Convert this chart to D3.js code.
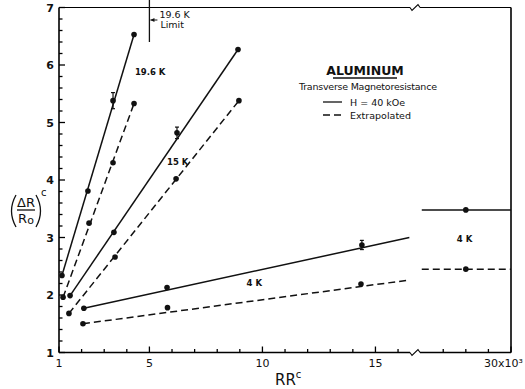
<!DOCTYPE html>
<html>
<head>
<meta charset="utf-8">
<script src="https://cdn.jsdelivr.net/npm/d3@7"></script>
<style>
  body { margin: 0; background: #fff; }
  text { font-family: "DejaVu Sans", sans-serif; fill: #111; }
</style>
</head>
<body>
<svg id="chart" width="525" height="389"></svg>
<script>
// data (x in units of 10^3, y = (dR/R0)^c)
var sol196 = [[1.13, 2.34], [2.28, 3.81], [3.39, 5.38], [4.32, 6.53]];
var das196 = [[1.18, 1.96], [2.33, 3.25], [3.39, 4.3], [4.32, 5.33]];
var sol15 = [[1.49, 1.99], [3.43, 3.09], [6.22, 4.82], [8.92, 6.27]];
var das15 = [[1.44, 1.68], [3.48, 2.66], [6.18, 4.02], [8.96, 5.38]];
var sol4 = [[2.1, 1.77], [5.78, 2.13], [14.4, 2.87], [28, 3.48]];
var das4 = [[2.06, 1.5], [5.8, 1.78], [14.36, 2.19], [28, 2.45]];

// fitted lines [x0, y0, x1, y1]
var fitLines = [
  {d: [1.13, 2.34, 4.32, 6.53], dash: false},
  {d: [1.18, 1.96, 4.32, 5.33], dash: true},
  {d: [1.49, 1.99, 8.92, 6.27], dash: false},
  {d: [1.44, 1.68, 8.96, 5.38], dash: true},
  {d: [2.1, 1.77, 16.5, 3.0], dash: false},
  {d: [2.06, 1.5, 16.5, 2.26], dash: true},
  {d: [26.05, 3.48, 30, 3.48], dash: false},
  {d: [26.05, 2.45, 30, 2.45], dash: true}
];

// error bars [x, y, half]
var errBars = [[3.39, 5.38, 0.14], [6.22, 4.82, 0.1], [14.4, 2.87, 0.08]];

var seriesLabels = [["19.6 K", 4.36, 5.83], ["15 K", 5.78, 4.26], ["4 K", 9.3, 2.16], ["4 K", 27.6, 2.92]];

var yTicks = [1, 2, 3, 4, 5, 6, 7];
var xMajor = [1, 5, 10, 15, 30];
var xMajorLabels = ["1", "5", "10", "15", "30x10\u00b3"];
var xMinor = [2, 3, 4, 6, 7, 8, 9, 11, 12, 13, 14, 16, 27, 28, 29];

var svg = d3.select("#chart");

// broken x axis: left part 1..16.75, right part 25.75..30
var x = d3.scaleLinear().domain([1, 16.75, 25.75, 30]).range([59, 415, 415, 511]);
var y = d3.scaleLinear().domain([1, 7]).range([352.5, 7.5]);

var g = svg.append("g");

// frame
var yTop = y(7), yBot = y(1), xL = x(1), xR = x(30), brk = x(16.75);
var frame = g.append("g").attr("fill", "none").attr("stroke", "#000");
frame.append("path").attr("d", "M" + xL + "," + yTop + "V" + yBot).attr("stroke-width", 1.6);
frame.append("path").attr("d", "M" + xR + "," + yTop + "V" + yBot).attr("stroke-width", 1.6);
[[yTop, 1.2], [yBot, 1.5]].forEach(function (t) {
  frame.append("line").attr("x1", xL).attr("x2", brk - 5).attr("y1", t[0]).attr("y2", t[0]).attr("stroke-width", t[1]);
  frame.append("line").attr("x1", brk + 5).attr("x2", xR).attr("y1", t[0]).attr("y2", t[0]).attr("stroke-width", t[1]);
  frame.append("path")
    .attr("d", "M" + (brk - 5) + "," + t[0] + "L" + (brk - 3) + "," + (t[0] + 3) + "L" + (brk + 3) + "," + (t[0] - 3) + "L" + (brk + 5) + "," + t[0])
    .attr("stroke-width", 1.1);
});

// y ticks (inside), minor every 0.2
var yMinor = d3.range(1, 7.01, 0.2);
frame.selectAll(".ymin").data(yMinor).enter().append("line")
  .attr("x1", xL).attr("x2", function (d) { return xL + (Math.abs(d - Math.round(d)) < 0.01 ? 6 : 3.5); })
  .attr("y1", function (d) { return y(d); }).attr("y2", function (d) { return y(d); })
  .attr("stroke-width", 1.3);
g.selectAll(".ylab").data(yTicks).enter().append("text")
  .attr("x", xL - 5).attr("y", function (d) { return y(d) + 4; })
  .attr("text-anchor", "end").attr("font-size", 11).attr("font-weight", "bold")
  .text(function (d) { return d; });

// x ticks (inside)
frame.selectAll(".xmaj").data(xMajor).enter().append("line")
  .attr("x1", function (d) { return x(d); }).attr("x2", function (d) { return x(d); })
  .attr("y1", yBot).attr("y2", yBot - 6).attr("stroke-width", 1.3);
frame.selectAll(".xmin").data(xMinor).enter().append("line")
  .attr("x1", function (d) { return x(d); }).attr("x2", function (d) { return x(d); })
  .attr("y1", yBot).attr("y2", yBot - 3.5).attr("stroke-width", 1.3);
g.selectAll(".xlab").data(xMajor).enter().append("text")
  .attr("x", function (d) { return x(d); }).attr("y", yBot + 14)
  .attr("text-anchor", function (d) { return d === 30 ? "end" : "middle"; })
  .attr("dx", function (d) { return d === 30 ? 12 : 0; })
  .attr("font-size", 11)
  .text(function (d, i) { return xMajorLabels[i]; });

// axis titles
svg.append("text").attr("x", 275).attr("y", 385).attr("font-size", 15).text("RR")
  .append("tspan").attr("font-size", 10).attr("dy", -7).text("c");

var yl = svg.append("g");
// parentheses as arcs
yl.append("path").attr("d", "M16,195 Q7,211 16,227").attr("fill", "none").attr("stroke", "#111").attr("stroke-width", 1.3);
yl.append("path").attr("d", "M36,195 Q45,211 36,227").attr("fill", "none").attr("stroke", "#111").attr("stroke-width", 1.3);
yl.append("text").attr("x", 26).attr("y", 207).attr("text-anchor", "middle").attr("font-size", 13).text("\u0394R");
yl.append("line").attr("x1", 17).attr("x2", 35).attr("y1", 210).attr("y2", 210).attr("stroke", "#111").attr("stroke-width", 1.3);
yl.append("text").attr("x", 26).attr("y", 223).attr("text-anchor", "middle").attr("font-size", 13).text("R")
  .append("tspan").attr("font-size", 11).attr("dy", 1).text("o");
yl.append("text").attr("x", 41).attr("y", 196).attr("font-size", 10).text("c");

// fitted lines
g.selectAll(".fit").data(fitLines).enter().append("line")
  .attr("x1", function (d) { return x(d.d[0]); }).attr("y1", function (d) { return y(d.d[1]); })
  .attr("x2", function (d) { return x(d.d[2]); }).attr("y2", function (d) { return y(d.d[3]); })
  .attr("stroke", "#111").attr("stroke-width", 1.5)
  .attr("stroke-dasharray", function (d) { return d.dash ? "7,4" : null; });

// points
var allPts = [].concat(sol196, das196, sol15, das15, sol4, das4);
g.selectAll(".pt").data(allPts).enter().append("circle")
  .attr("cx", function (d) { return x(d[0]); }).attr("cy", function (d) { return y(d[1]); })
  .attr("r", 2.8).attr("fill", "#111");

// error bars
errBars.forEach(function (e) {
  var cx = x(e[0]);
  g.append("line").attr("x1", cx).attr("x2", cx).attr("y1", y(e[1] - e[2])).attr("y2", y(e[1] + e[2])).attr("stroke", "#111").attr("stroke-width", 1.2);
  [e[1] - e[2], e[1] + e[2]].forEach(function (v) {
    g.append("line").attr("x1", cx - 2).attr("x2", cx + 2).attr("y1", y(v)).attr("y2", y(v)).attr("stroke", "#111").attr("stroke-width", 1.2);
  });
});

// curve labels
g.selectAll(".slab").data(seriesLabels).enter().append("text")
  .attr("x", function (d) { return x(d[1]); }).attr("y", function (d) { return y(d[2]); })
  .attr("font-size", 8.5).attr("font-weight", "bold")
  .text(function (d) { return d[0]; });

// 19.6 K limit marker
var lx = x(5);
svg.append("line").attr("x1", lx).attr("x2", lx).attr("y1", 0).attr("y2", 42).attr("stroke", "#111").attr("stroke-width", 1.3);
svg.append("line").attr("x1", lx + 1).attr("x2", lx + 8).attr("y1", 20).attr("y2", 20).attr("stroke", "#111").attr("stroke-width", 1);
svg.append("path").attr("d", "M" + (lx + 1) + ",20L" + (lx + 5) + ",18L" + (lx + 5) + ",22Z").attr("fill", "#111");
svg.append("text").attr("x", lx + 10).attr("y", 18).attr("font-size", 9.5).text("19.6 K");
svg.append("text").attr("x", lx + 11).attr("y", 28).attr("font-size", 9.5).text("Limit");

// legend
var lg = svg.append("g");
lg.append("text").attr("x", 365).attr("y", 75).attr("text-anchor", "middle").attr("font-size", 12.5).attr("font-weight", "bold").text("ALUMINUM");
lg.append("line").attr("x1", 333).attr("x2", 397).attr("y1", 78).attr("y2", 78).attr("stroke", "#111").attr("stroke-width", 1.3);
lg.append("text").attr("x", 299).attr("y", 90).attr("font-size", 9.5).attr("textLength", 138).text("Transverse  Magnetoresistance");
lg.append("line").attr("x1", 323).attr("x2", 342).attr("y1", 102).attr("y2", 102).attr("stroke", "#111").attr("stroke-width", 1.3);
lg.append("text").attr("x", 350).attr("y", 106).attr("font-size", 9.5).text("H = 40 kOe");
lg.append("line").attr("x1", 323).attr("x2", 342).attr("y1", 115).attr("y2", 115).attr("stroke", "#111").attr("stroke-width", 1.5).attr("stroke-dasharray", "7,4");
lg.append("text").attr("x", 350).attr("y", 119).attr("font-size", 9.5).text("Extrapolated");
</script>
</body>
</html>
